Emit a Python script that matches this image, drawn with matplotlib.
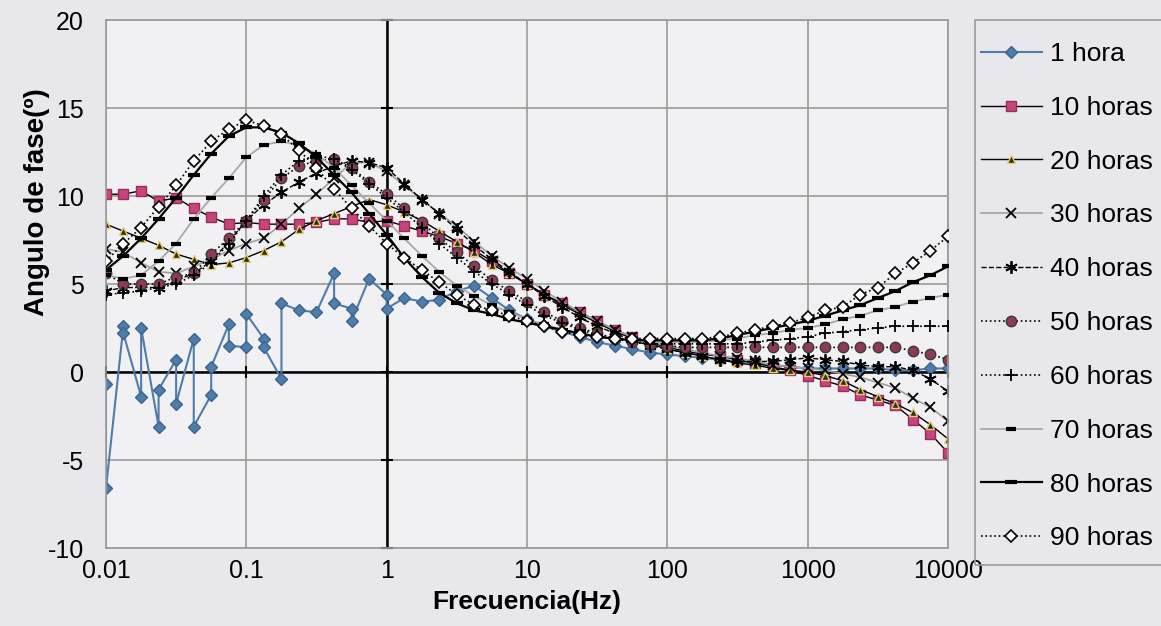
import numpy as np
import matplotlib
matplotlib.use("Agg")
import matplotlib.pyplot as plt
from matplotlib.lines import Line2D
from matplotlib.patches import Rectangle

plt.rcParams['font.family'] = ['Liberation Sans', 'DejaVu Sans']
plt.rcParams['axes.unicode_minus'] = False

# frequency sweep (Hz), 8 points per decade
freq = [0.01, 0.0133, 0.0178, 0.0237, 0.0316, 0.0422, 0.0562, 0.075,
        0.1, 0.133, 0.178, 0.237, 0.316, 0.422, 0.562, 0.75,
        1, 1.33, 1.78, 2.37, 3.16, 4.22, 5.62, 7.5,
        10, 13.3, 17.8, 23.7, 31.6, 42.2, 56.2, 75,
        100, 133, 178, 237, 316, 422, 562, 750,
        1000, 1330, 1780, 2370, 3160, 4220, 5620, 7500, 10000]

# 1 hora is noisy at low frequency (two readings per frequency)
freq_1h = [0.01, 0.01, 0.0133, 0.0133, 0.0178, 0.0178, 0.0237, 0.0237,
           0.0316, 0.0316, 0.0422, 0.0422, 0.0562, 0.0562, 0.075, 0.075,
           0.1, 0.1, 0.133, 0.133, 0.178, 0.178, 0.237, 0.316,
           0.422, 0.422, 0.562, 0.562, 0.75, 1, 1,
           1.33, 1.78, 2.37, 3.16, 4.22, 5.62, 7.5,
           10, 13.3, 17.8, 23.7, 31.6, 42.2, 56.2, 75,
           100, 133, 178, 237, 316, 422, 562, 750,
           1000, 1330, 1780, 2370, 3160, 4220, 5620, 7500, 10000]
h1 = [-0.7, -6.6, 2.6, 2.2, -1.4, 2.5, -3.1, -1.0,
      0.7, -1.8, 1.9, -3.1, -1.3, 0.3, 2.7, 1.5,
      1.4, 3.3, 1.9, 1.4, -0.4, 3.9, 3.5, 3.4,
      5.6, 3.9, 3.6, 2.9, 5.3, 4.4, 3.6,
      4.2, 4.0, 4.1, 4.6, 4.9, 4.2, 3.5,
      3.0, 2.6, 2.3, 2.0, 1.7, 1.5, 1.3, 1.1,
      1.0, 0.9, 0.8, 0.7, 0.6, 0.5, 0.4, 0.3,
      0.2, 0.2, 0.2, 0.2, 0.2, 0.1, 0.1, 0.2, 0.2]

h10 = [10.1, 10.1, 10.3, 9.7, 9.9, 9.3, 8.8, 8.4,
       8.5, 8.4, 8.4, 8.4, 8.5, 8.7, 8.7, 8.5,
       8.6, 8.3, 8.0, 7.7, 7.3, 6.9, 6.3, 5.6,
       5.0, 4.4, 3.9, 3.4, 2.9, 2.4, 2.0, 1.7,
       1.4, 1.2, 1.0, 0.9, 0.7, 0.5, 0.3, 0.1,
       -0.2, -0.5, -0.8, -1.3, -1.6, -1.9, -2.7, -3.5, -4.6]
h20 = [8.4, 8.0, 7.6, 7.2, 6.7, 6.4, 6.1, 6.2,
       6.5, 6.9, 7.4, 8.1, 8.6, 9.0, 9.4, 9.8,
       9.5, 9.1, 8.6, 8.0, 7.4, 6.8, 6.1, 5.6,
       5.0, 4.4, 3.8, 3.3, 2.8, 2.3, 1.9, 1.6,
       1.3, 1.1, 0.9, 0.7, 0.5, 0.4, 0.2, 0.1,
       0.0, -0.2, -0.5, -1.0, -1.4, -1.8, -2.3, -3.0, -3.8]
h30 = [7.0, 6.8, 6.2, 5.7, 5.6, 6.0, 6.4, 6.9,
       7.3, 7.6, 8.4, 9.3, 10.1, 11.0, 11.9, 11.9,
       11.4, 10.6, 9.8, 9.0, 8.3, 7.4, 6.6, 5.9,
       5.3, 4.6, 4.0, 3.4, 2.9, 2.4, 2.0, 1.7,
       1.5, 1.3, 1.1, 0.9, 0.8, 0.6, 0.4, 0.3,
       0.2, 0.1, -0.1, -0.3, -0.6, -0.9, -1.5, -2.0, -2.8]
h40 = [4.6, 4.8, 4.8, 4.8, 5.2, 5.6, 6.3, 7.4,
       8.6, 9.5, 10.2, 10.8, 11.3, 11.7, 12.0, 11.9,
       11.6, 10.7, 9.8, 9.0, 8.1, 7.2, 6.4, 5.7,
       5.0, 4.3, 3.7, 3.1, 2.6, 2.2, 1.8, 1.5,
       1.3, 1.1, 0.9, 0.7, 0.6, 0.6, 0.6, 0.7,
       0.8, 0.7, 0.6, 0.4, 0.3, 0.3, 0.1, -0.4, -1.1]
h50 = [5.6, 5.0, 5.0, 5.0, 5.4, 5.6, 6.7, 7.6,
       8.6, 9.8, 11.0, 11.7, 12.0, 12.1, 11.6, 10.8,
       10.1, 9.3, 8.5, 7.6, 6.8, 6.0, 5.2, 4.6,
       4.0, 3.4, 2.9, 2.5, 2.2, 1.9, 1.7, 1.6,
       1.5, 1.4, 1.4, 1.4, 1.4, 1.4, 1.4, 1.4,
       1.4, 1.4, 1.4, 1.4, 1.4, 1.4, 1.2, 1.0, 0.7]
h60 = [4.4, 4.5, 4.6, 4.8, 5.0, 5.5, 6.2, 7.3,
       8.6, 10.0, 11.2, 12.0, 12.3, 12.1, 11.5, 10.7,
       9.9, 9.1, 8.2, 7.3, 6.5, 5.7, 5.0, 4.4,
       3.8, 3.2, 2.8, 2.4, 2.1, 1.9, 1.7, 1.6,
       1.6, 1.6, 1.6, 1.6, 1.6, 1.7, 1.8, 1.9,
       2.0, 2.2, 2.3, 2.4, 2.5, 2.6, 2.6, 2.6, 2.6]
h70 = [5.5, 5.3, 5.5, 6.3, 7.3, 8.7, 9.9, 11.0,
       12.2, 12.9, 13.1, 12.9, 12.4, 11.6, 10.6, 9.6,
       8.6, 7.6, 6.6, 5.7, 4.9, 4.3, 3.8, 3.4,
       3.0, 2.7, 2.4, 2.2, 2.0, 1.9, 1.8, 1.7,
       1.7, 1.7, 1.7, 1.8, 1.9, 2.1, 2.2, 2.4,
       2.5, 2.7, 3.0, 3.2, 3.5, 3.7, 4.0, 4.2, 4.4]
h80 = [5.8, 6.6, 7.6, 8.7, 9.9, 11.2, 12.4, 13.4,
       13.9, 13.9, 13.6, 13.0, 12.2, 11.2, 10.2, 9.0,
       7.8, 6.5, 5.4, 4.5, 3.9, 3.5, 3.3, 3.0,
       2.8, 2.6, 2.4, 2.2, 2.0, 1.9, 1.8, 1.8,
       1.8, 1.8, 1.8, 1.9, 2.1, 2.3, 2.5, 2.7,
       2.9, 3.2, 3.5, 3.8, 4.2, 4.6, 5.1, 5.5, 6.0]
h90 = [6.3, 7.3, 8.2, 9.4, 10.6, 12.0, 13.1, 13.8,
       14.3, 14.0, 13.5, 12.6, 11.6, 10.4, 9.3, 8.3,
       7.3, 6.5, 5.8, 5.1, 4.4, 3.8, 3.5, 3.2,
       2.9, 2.6, 2.3, 2.1, 2.0, 1.9, 1.9, 1.9,
       1.9, 1.9, 1.9, 2.0, 2.2, 2.4, 2.6, 2.8,
       3.1, 3.5, 3.7, 4.4, 4.8, 5.6, 6.2, 6.9, 7.7]

labels = ['1 hora', '10 horas', '20 horas', '30 horas', '40 horas',
          '50 horas', '60 horas', '70 horas', '80 horas', '90 horas']
xtick_vals = [0.01, 0.1, 1, 10, 100, 1000, 10000]
xtick_labels = ['0.01', '0.1', '1', '10', '100', '1000', '10000']
ytick_vals = [-10, -5, 0, 5, 10, 15, 20]

styles = [
    dict(color='#4f7ca8', ls='-', lw=1.5, marker='D', ms=6, mfc='#4f7ca8', mec='#3b6590'),
    dict(color='black', ls='-', lw=1.0, marker='s', ms=7.5, mfc='#c8447c', mec='#9a2c5a'),
    dict(color='black', ls='-', lw=1.0, marker='^', ms=6, mfc='#2e2e1a', mec='#e6cf6a'),
    dict(color='#a0a0a0', ls='-', lw=1.2, marker='x', ms=7, mfc='black', mec='black', mew=1.3),
    dict(color='black', ls='--', lw=1.0, marker=(6, 2, 0), ms=9, mfc='black', mec='black', mew=1.3),
    dict(color='black', ls=':', lw=1.2, marker='o', ms=7.5, mfc='#8e3a55', mec='#3a3a3a'),
    dict(color='black', ls=':', lw=1.2, marker='+', ms=8, mfc='black', mec='black', mew=1.3),
    dict(color='#a8a8a8', ls='-', lw=1.3, marker='_', ms=7, mfc='black', mec='black', mew=3),
    dict(color='black', ls='-', lw=1.6, marker='_', ms=8, mfc='black', mec='black', mew=3),
    dict(color='black', ls=':', lw=1.2, marker='D', ms=6, mfc='white', mec='black', mew=1.2),
]

bg = '#e8e8ec'
fig = plt.figure(figsize=(11.61, 6.26), dpi=100, facecolor=bg)
ax = fig.add_axes([106 / 1161, 1 - 548 / 626, (948 - 106) / 1161, (548 - 20) / 626])
ax.set_facecolor('#f1f1f4')

ax.set_xscale('log')
ax.set_xlim(0.01, 10000)
ax.set_ylim(-10, 20)
ax.set_xticks(xtick_vals)
ax.set_xticklabels(xtick_labels)
ax.set_yticks(ytick_vals)
ax.minorticks_off()
ax.tick_params(length=0, labelsize=18)
ax.tick_params(axis='y', pad=16)
ax.tick_params(axis='x', pad=8)
ax.grid(True, color='#9a9a9a', lw=1.2, zorder=0)
ax.set_axisbelow(True)
for sp in ax.spines.values():
    sp.set_color('#9a9a9a')
    sp.set_linewidth(1.2)

# Excel-style axes crossing at x=1 and y=0
ax.axvline(1, color='black', lw=1.8, zorder=1.5)
ax.axhline(0, color='black', lw=1.8, zorder=1.5)
ax.plot([1] * len(ytick_vals), ytick_vals, ls='none', marker='_', ms=8, mew=1.5,
        color='black', clip_on=False, zorder=1.5)
ax.plot(xtick_vals, [0] * len(xtick_vals), ls='none', marker='|', ms=8, mew=1.5,
        color='black', clip_on=False, zorder=1.5)

series = [h1, h10, h20, h30, h40, h50, h60, h70, h80, h90]
handles = []
for i, (vals, lab, st) in enumerate(zip(series, labels, styles)):
    x = freq_1h if i == 0 else freq
    ax.plot(x, vals, zorder=2 + i * 0.1, **st)
    handles.append(Line2D([], [], **st))

ax.set_xlabel('Frecuencia(Hz)', fontsize=19, fontweight='bold', labelpad=5)
ax.set_ylabel('Angulo de fase(º)', fontsize=20, fontweight='bold')
ax.yaxis.set_label_coords(-0.066, 0.655)

# legend box
fig.patches.append(Rectangle((975 / 1161, 1 - 565 / 626), 200 / 1161, 545 / 626,
                             transform=fig.transFigure, fill=False,
                             edgecolor='#9a9a9a', lw=1.2))
fig.legend(handles, labels, loc='upper left', bbox_to_anchor=(981 / 1161, 1 - 42 / 626),
           frameon=False, fontsize=19, handlelength=2.3, handletextpad=0.3,
           labelspacing=1.13, borderpad=0, borderaxespad=0)

fig.savefig('out.png', dpi=100, facecolor=bg)
